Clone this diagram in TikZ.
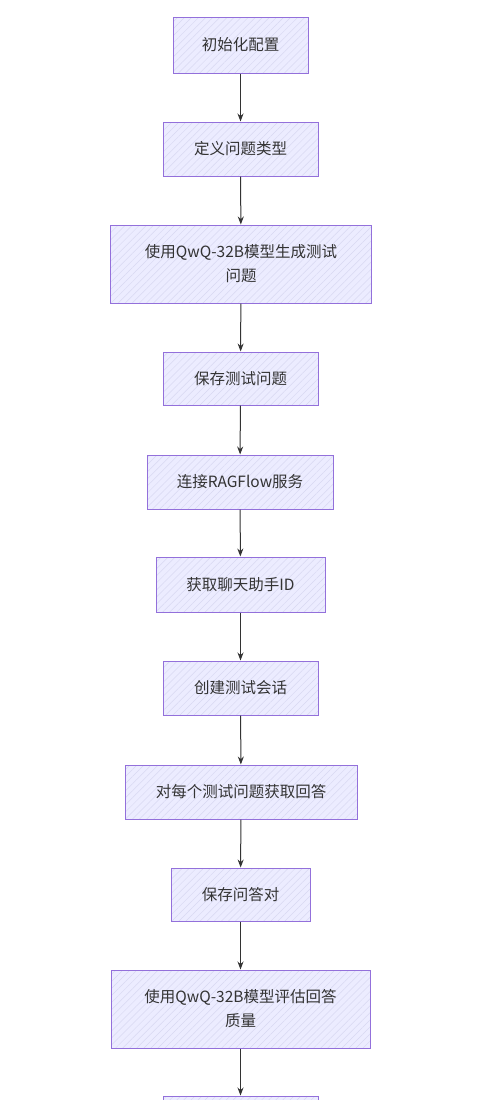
\documentclass[tikz,border=0pt]{standalone}
\usepackage{fontspec}
\newfontfamily\cjk{Noto Sans CJK SC}
\usetikzlibrary{arrows.meta,patterns.meta}
\definecolor{boxfill}{HTML}{ECECFF}
\definecolor{boxline}{HTML}{9370DB}
\definecolor{hatch}{HTML}{D8D8F2}
\definecolor{txt}{HTML}{333333}
\tikzset{
  flowbox/.style={preaction={fill=boxfill},
    pattern={Lines[angle=45,distance=5pt,line width=0.5pt]}, pattern color=hatch,
    draw=boxline, line width=1pt,
    inner sep=0pt, align=center, text=txt,
    font=\cjk\fontsize{15.5}{24}\selectfont},
  flowarrow/.style={draw=txt, line width=1pt, -{Stealth[length=8pt,width=6pt]}}
}
\begin{document}
\begin{tikzpicture}[x=1pt,y=-1pt]
\useasboundingbox (0,0) rectangle (500,1100);
\clip (0,0) rectangle (500,1100);
\fill[white] (0,0) rectangle (500,1100);
\node[flowbox, minimum width=135, minimum height=56] (n1) at (240.5,45) {初始化配置};
\node[flowbox, minimum width=155, minimum height=54] (n2) at (240.5,149) {定义问题类型};
\node[flowbox, minimum width=261, minimum height=78] (n3) at (241,264) {使用QwQ-32B模型生成测试\\问题};
\node[flowbox, minimum width=155, minimum height=53] (n4) at (240.5,378.5) {保存测试问题};
\node[flowbox, minimum width=186, minimum height=54] (n5) at (240,482) {连接RAGFlow服务};
\node[flowbox, minimum width=169, minimum height=55] (n6) at (240.5,584.5) {获取聊天助手ID};
\node[flowbox, minimum width=155, minimum height=54] (n7) at (240.5,688) {创建测试会话};
\node[flowbox, minimum width=232, minimum height=54] (n8) at (241,792) {对每个测试问题获取回答};
\node[flowbox, minimum width=139, minimum height=53] (n9) at (240.5,894.5) {保存问答对};
\node[flowbox, minimum width=259, minimum height=78] (n10) at (240.5,1009) {使用QwQ-32B模型评估回答\\质量};
\node[flowbox, minimum width=155, minimum height=54] (n11) at (240.5,1123) {};
\foreach \a/\b in {n1/n2,n2/n3,n3/n4,n4/n5,n5/n6,n6/n7,n7/n8,n8/n9,n9/n10,n10/n11}
  \draw[flowarrow] (\a) -- (\b);
\end{tikzpicture}
\end{document}
